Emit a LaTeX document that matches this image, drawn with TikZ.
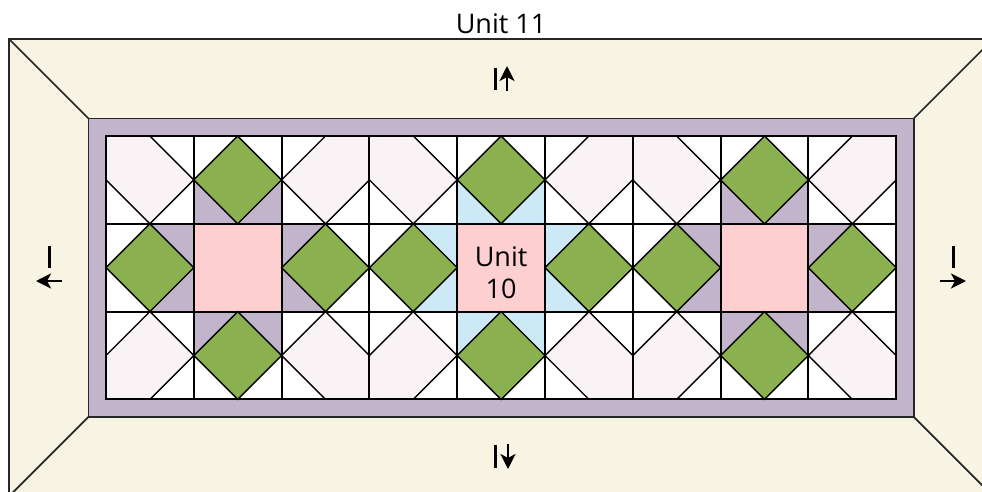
\documentclass[tikz,border=0pt]{standalone}
\usepackage{fontspec}
\setmainfont{Open Sans}
\usetikzlibrary{arrows.meta}
\definecolor{cream}{RGB}{247,244,228}
\definecolor{lav}{RGB}{194,180,202}
\definecolor{leaf}{RGB}{138,176,79}
\definecolor{rose}{RGB}{253,207,208}
\definecolor{blush}{RGB}{250,243,245}
\definecolor{sky}{RGB}{205,233,245}
\newcommand\quiltcell[3]{\begin{scope}[shift={(106+#1*87.8,136+#2*87.8)},x=87.8pt,y=-87.8pt]#3\end{scope}}
\newcommand\pTL{\fill[blush] (0,0)--(0.5,0)--(1,0.5)--(0.5,1)--(0,0.5)--cycle;
  \draw[diagline] (0.5,0)--(1,0.5)--(0.5,1)--(0,0.5);}
\newcommand\pTR{\fill[blush] (0.5,0)--(1,0)--(1,0.5)--(0.5,1)--(0,0.5)--cycle;
  \draw[diagline] (0.5,0)--(0,0.5)--(0.5,1)--(1,0.5);}
\newcommand\pBL{\fill[blush] (0,0.5)--(0.5,0)--(1,0.5)--(0.5,1)--(0,1)--cycle;
  \draw[diagline] (0,0.5)--(0.5,0)--(1,0.5)--(0.5,1);}
\newcommand\pBR{\fill[blush] (0,0.5)--(0.5,0)--(1,0.5)--(1,1)--(0.5,1)--cycle;
  \draw[diagline] (1,0.5)--(0.5,0)--(0,0.5)--(0.5,1);}
\newcommand\gem[4]{%
  \fill[#1] (0,0)--(0.5,0)--(0,0.5)--cycle;
  \fill[#2] (1,0)--(0.5,0)--(1,0.5)--cycle;
  \fill[#3] (0,1)--(0,0.5)--(0.5,1)--cycle;
  \fill[#4] (1,1)--(1,0.5)--(0.5,1)--cycle;
  \filldraw[fill=leaf,diagline] (0.5,0)--(1,0.5)--(0.5,1)--(0,0.5)--cycle;}
\newcommand\rosesq{\fill[rose] (0,0) rectangle (1,1);}
\begin{document}
\begin{tikzpicture}[x=1pt,y=-1pt,
  diagline/.style={draw=black,line width=1.4pt},
  gridline/.style={draw=black,line width=1.9pt},
  frameline/.style={draw=black!85,line width=1.7pt},
  dirarrow/.style={line width=2.8pt,-{Stealth[length=15pt,width=15pt,inset=4pt]}},
  dirbar/.style={line width=3pt},
  lbl/.style={font=\fontsize{27}{32}\selectfont,inner sep=0pt}]
\useasboundingbox (0,0) rectangle (982,492);
\clip (0,0) rectangle (982,492);
% outer border
\filldraw[fill=cream,frameline] (9,39) rectangle (993.2,496.4);
\draw[frameline] (9,39) -- (88.5,118.5);
\draw[frameline] (993.2,39) -- (913.7,118.5);
\draw[frameline] (9,496.4) -- (88.5,416.9);
\draw[frameline] (993.2,496.4) -- (913.7,416.9);
% purple frame
\filldraw[fill=lav,frameline] (88.5,118.5) rectangle (913.7,416.9);
\fill[white] (106,136) rectangle (896.2,399.4);
% row 0
\quiltcell{0}{0}{\pTL}
\quiltcell{1}{0}{\gem{white}{white}{lav}{lav}}
\quiltcell{2}{0}{\pTR}
\quiltcell{3}{0}{\pTL}
\quiltcell{4}{0}{\gem{white}{white}{sky}{sky}}
\quiltcell{5}{0}{\pTR}
\quiltcell{6}{0}{\pTL}
\quiltcell{7}{0}{\gem{white}{white}{lav}{lav}}
\quiltcell{8}{0}{\pTR}
% row 1
\quiltcell{0}{1}{\gem{white}{lav}{white}{lav}}
\quiltcell{1}{1}{\rosesq}
\quiltcell{2}{1}{\gem{lav}{white}{lav}{white}}
\quiltcell{3}{1}{\gem{white}{sky}{white}{sky}}
\quiltcell{4}{1}{\rosesq}
\quiltcell{5}{1}{\gem{sky}{white}{sky}{white}}
\quiltcell{6}{1}{\gem{white}{lav}{white}{lav}}
\quiltcell{7}{1}{\rosesq}
\quiltcell{8}{1}{\gem{lav}{white}{lav}{white}}
% row 2
\quiltcell{0}{2}{\pBL}
\quiltcell{1}{2}{\gem{lav}{lav}{white}{white}}
\quiltcell{2}{2}{\pBR}
\quiltcell{3}{2}{\pBL}
\quiltcell{4}{2}{\gem{sky}{sky}{white}{white}}
\quiltcell{5}{2}{\pBR}
\quiltcell{6}{2}{\pBL}
\quiltcell{7}{2}{\gem{lav}{lav}{white}{white}}
\quiltcell{8}{2}{\pBR}
% grid lines
\foreach \i in {1,...,8} \draw[gridline] (106+\i*87.8,136) -- (106+\i*87.8,399.4);
\foreach \j in {1,2} \draw[gridline] (106,136+\j*87.8) -- (896.2,136+\j*87.8);
\draw[gridline] (106,136) rectangle (896.2,399.4);
% texts
\node[lbl,anchor=base] (title) at (501,33.3) {Unit 11};
\node[lbl,align=center,anchor=center] (center) at (501.1,272.8) {Unit\\10};
% direction marks
\coordinate (tb1) at (495,68); \coordinate (tb2) at (495,90.5);
\coordinate (ta1) at (507,91); \coordinate (ta2) at (507,66);
\draw[dirbar] (tb1) -- (tb2); \draw[dirarrow] (ta1) -- (ta2);
\coordinate (bb1) at (495,445); \coordinate (bb2) at (495,467.5);
\coordinate (ba1) at (508,444); \coordinate (ba2) at (508,469);
\draw[dirbar] (bb1) -- (bb2); \draw[dirarrow] (ba1) -- (ba2);
\coordinate (lb1) at (49,246); \coordinate (lb2) at (49,267.5);
\coordinate (la1) at (62,281); \coordinate (la2) at (36,281);
\draw[dirbar] (lb1) -- (lb2); \draw[dirarrow] (la1) -- (la2);
\coordinate (rb1) at (953,246); \coordinate (rb2) at (953,267.5);
\coordinate (ra1) at (940,281); \coordinate (ra2) at (966,281);
\draw[dirbar] (rb1) -- (rb2); \draw[dirarrow] (ra1) -- (ra2);
\end{tikzpicture}
\end{document}
